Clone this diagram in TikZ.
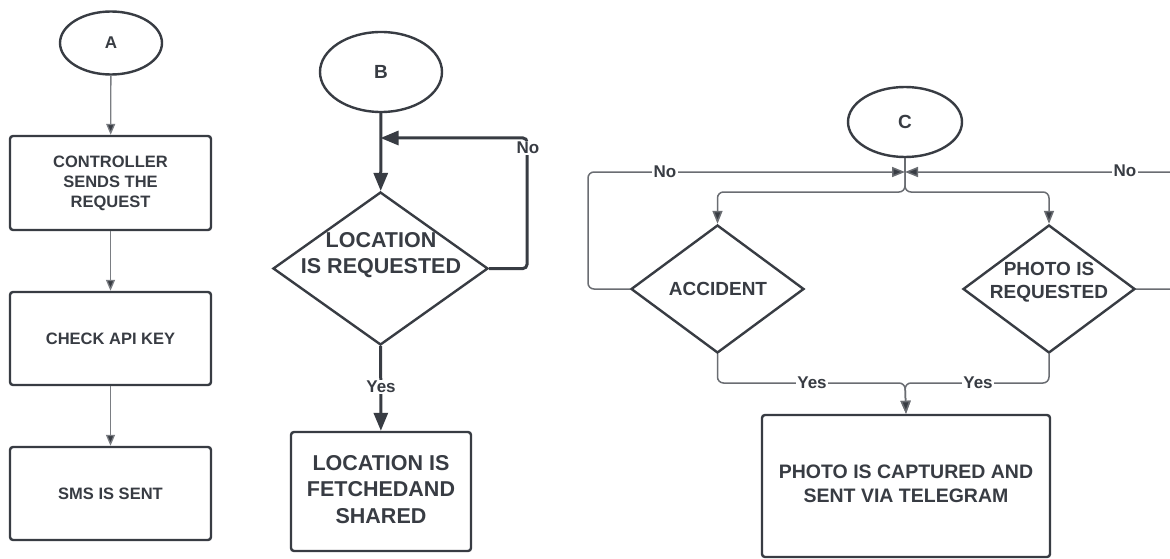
\documentclass[tikz,border=0pt]{standalone}
\usepackage{fontspec}
\setmainfont{Liberation Sans}
\usetikzlibrary{shapes.geometric,arrows.meta}
\definecolor{ink}{HTML}{383C43}
\definecolor{wire}{HTML}{7A7D82}
\definecolor{cwire}{HTML}{6A6D72}
\tikzset{
  box/.style={draw=ink, line width=2.4pt, rounded corners=3pt, inner sep=0pt,
    align=center, text=ink},
  term/.style={draw=ink, line width=2.4pt, ellipse, inner sep=0pt, text=ink,
    font=\bfseries\fontsize{17}{17}\selectfont},
  decision/.style={draw=ink, line width=2.4pt, diamond, inner sep=0pt},
  dtext/.style={align=center, text=ink, inner sep=0pt},
  lbl/.style={fill=white, inner sep=1.5pt, text=ink,
    font=\bfseries\fontsize{17}{17}\selectfont},
  fa/.style={font=\bfseries\fontsize{16.5}{20}\selectfont},
  fb/.style={font=\bfseries\fontsize{21.5}{26.5}\selectfont},
  fc/.style={font=\bfseries\fontsize{19}{23}\selectfont},
  aline/.style={draw=wire, line width=1.3pt,
    -{Triangle[length=11pt,width=9pt,fill=ink]}},
  bline/.style={draw=ink, line width=3pt},
  barrow/.style={bline, -{Triangle[length=18pt,width=14pt]}},
  cline/.style={draw=cwire, line width=1.5pt, rounded corners=6pt},
  carrow/.style={cline, -{Triangle[length=13pt,width=10pt,fill=ink]}},
}
\begin{document}
\begin{tikzpicture}[x=1pt,y=-1pt]
\useasboundingbox[fill=white] (0,0) rectangle (1170,559);

% ---- column A: SMS path ----
\node[term, minimum width=102pt, minimum height=63pt] (A) at (111,43) {A};
\node[box, fa, minimum width=201pt, minimum height=94pt] (a1) at (110.5,183)
  {CONTROLLER\\SENDS THE\\REQUEST};
\node[box, fa, minimum width=201pt, minimum height=93pt] (a2) at (110.5,338.5)
  {CHECK API KEY};
\node[box, fa, minimum width=201pt, minimum height=93pt] (a3) at (110.5,493.5)
  {SMS IS SENT};
\draw[aline] (A) -- (a1);
\draw[aline] (a1) -- (a2);
\draw[aline] (a2) -- (a3);

% ---- column B: location path ----
\node[term, minimum width=122pt, minimum height=80pt,
  font=\bfseries\fontsize{19}{19}\selectfont] (B) at (381,72) {B};
\node[decision, minimum width=215pt, minimum height=153pt] (locq) at (380.5,268.5) {};
\node[dtext, fb] (locq-t) at (381,255) {LOCATION\\IS REQUESTED};
\node[box, fb, minimum width=180pt, minimum height=119pt] (fetch) at (381,491.5)
  {\raisebox{3pt}{\begin{tabular}{@{}c@{}}LOCATION IS\\FETCHEDAND\\SHARED\end{tabular}}};
\coordinate (bjoin) at (380.5,138);
\coordinate (bcorner) at (527,138);
\draw[barrow] (B) -- (locq);
\draw[bline, rounded corners=4pt, -{Triangle[length=18pt,width=14pt]}]
  (locq.east) -| (bcorner) -- (bjoin);
\node[lbl] (noB) at (528,148) {No};
\draw[barrow] (locq) -- (fetch);
\node[lbl] (yesB) at (381,387) {Yes};

% ---- column C: photo path ----
\node[term, minimum width=114pt, minimum height=70pt,
  font=\bfseries\fontsize{19}{19}\selectfont] (C) at (905,122) {C};
\node[decision, minimum width=173pt, minimum height=128pt] (acc) at (717.5,289) {};
\node[dtext, fc] (acc-t) at (718,288.5) {ACCIDENT};
\node[decision, minimum width=172pt, minimum height=128pt] (photo) at (1049,289) {};
\node[dtext, fc] (photo-t) at (1049,282) {PHOTO IS\\REQUESTED};
\node[box, font=\bfseries\fontsize{19.5}{24}\selectfont,
  minimum width=288pt, minimum height=142pt] (capt) at (906,486)
  {\raisebox{-2pt}{\begin{tabular}{@{}c@{}}PHOTO IS CAPTURED AND\\SENT VIA TELEGRAM\end{tabular}}};

\coordinate (cjoin) at (905,172);
\coordinate (csplit) at (905,192);
\coordinate (cnoL) at (588,172);
\coordinate (cnoR) at (1185,172);
\coordinate (cmerge) at (905,383);

\draw[cline] (C) -- (cjoin);
\draw[carrow] (cjoin) -- (csplit) -| (acc.north);
\draw[carrow] (cjoin) -- (csplit) -| (photo.north);
\draw[carrow] (acc.west) -| (cnoL) -- (cjoin);
\draw[carrow] (photo.east) -| (cnoR) -- (cjoin);
\node[lbl] (noL) at (665,172) {No};
\node[lbl] (noR) at (1125,171) {No};
\draw[carrow] (acc.south) |- (cmerge) -- (capt.north);
\draw[carrow] (photo.south) |- (cmerge) -- (capt.north);
\node[lbl] (yesL) at (812,383) {Yes};
\node[lbl] (yesR) at (978,383) {Yes};
\end{tikzpicture}
\end{document}
